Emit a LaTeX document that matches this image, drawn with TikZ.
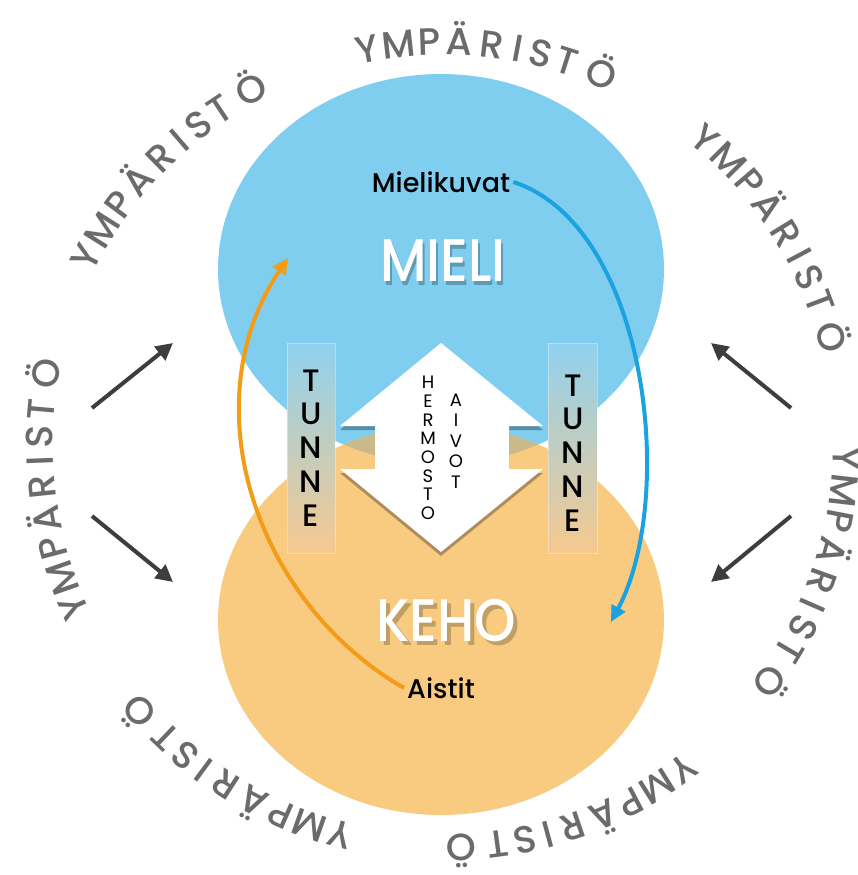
\documentclass[tikz,border=0pt]{standalone}
\usepackage{fontspec}
\setmainfont{Poppins}
\newfontfamily\medfont{Poppins Medium}
\usetikzlibrary{arrows.meta}

\definecolor{mieliblue}{HTML}{7FCEF0}
\definecolor{kehoorange}{HTML}{F8CB80}
\definecolor{overlaptan}{HTML}{C9B98B}
\definecolor{mieliarrow}{HTML}{1AA3E0}
\definecolor{kehoarrow}{HTML}{F39C17}
\definecolor{envgray}{HTML}{6B6B6B}
\definecolor{envdark}{HTML}{3D3D3D}
\definecolor{tunnetop}{HTML}{90D1EE}
\definecolor{tunnebot}{HTML}{F6C98F}

\begin{document}
\begin{tikzpicture}[x=1pt,y=1pt,
  envtext/.style={text=envgray,font=\medfont\fontsize{38}{38}\selectfont,anchor=base,inner sep=0pt},
  envarrow/.style={draw=envdark,line width=4pt,-{Triangle[length=17pt,width=17pt]}},
  loop/.style={line width=4pt,-{Triangle[length=16pt,width=15pt]}},
  bigword/.style={font=\medfont\fontsize{60}{60}\selectfont,inner sep=0pt,xscale=0.88},
  smallword/.style={font=\medfont\fontsize{27}{27}\selectfont,inner sep=3pt},
  column/.style={align=center,inner sep=0pt},
  bar/.style={top color=tunnetop,bottom color=tunnebot,draw=white,draw opacity=0.35,line width=1pt}]
\useasboundingbox (0,0) rectangle (858,-875);

\fill[mieliblue] (441,-269) ellipse [x radius=223,y radius=195];
\fill[kehoorange] (441,-620) ellipse [x radius=223,y radius=195];
\begin{scope}
\clip (441,-269) ellipse [x radius=223,y radius=195];
\fill[overlaptan] (441,-620) ellipse [x radius=223,y radius=195];
\end{scope}

% kaksisuuntainen nuoli keskellä
\fill[black,opacity=0.3,yshift=-4pt] (441,-343) -- (543,-426) -- (509,-426) -- (509,-469) -- (543,-469)
  -- (441,-552) -- (340,-469) -- (375,-469) -- (375,-426) -- (340,-426) -- cycle;
\fill[white] (441,-343) -- (543,-426) -- (509,-426) -- (509,-469) -- (543,-469)
  -- (441,-552) -- (340,-469) -- (375,-469) -- (375,-426) -- (340,-426) -- cycle;

\node[column,font=\fontsize{18}{18.7}\selectfont] (hermosto) at (428,-448) {H\\E\\R\\M\\O\\S\\T\\O};
\node[column,font=\fontsize{18}{20.5}\selectfont] (aivot) at (456,-441) {A\\I\\V\\O\\T};

\fill[bar] (287,-343) rectangle (335,-553);
\fill[bar] (548,-343) rectangle (597,-553);
\node[column,font=\medfont\fontsize{31}{33.8}\selectfont] (tunneL) at (311,-448) {T\\U\\N\\N\\E};
\node[column,font=\medfont\fontsize{31}{33.8}\selectfont] (tunneR) at (573,-453) {T\\U\\N\\N\\E};

\node[bigword,text=black,opacity=0.25] (mieliShadow) at (445,-265) {MIELI};
\node[bigword,text=white] (mieli) at (443,-261) {MIELI};
\node[bigword,text=black,opacity=0.22] (kehoShadow) at (450,-625) {KEHO};
\node[bigword,text=white] (keho) at (446,-621) {KEHO};

\node[smallword] (mielikuvat) at (441,-182) {Mielikuvat};
\node[smallword] (aistit) at (441,-688) {Aistit};

\coordinate (kehoIn) at (611,-622);
\coordinate (mieliIn) at (288,-258);
\draw[loop,mieliarrow] (mielikuvat.east) to[out=-18,in=62,looseness=0.8] (kehoIn);
\draw[loop,kehoarrow] (aistit.west) to[out=150,in=-124] (mieliIn);

\coordinate (envL) at (92,-462);
\coordinate (envR) at (791,-462);
\coordinate (mieliL) at (173,-343);
\coordinate (kehoL) at (173,-582);
\coordinate (mieliR) at (711,-343);
\coordinate (kehoR) at (711,-582);
\draw[envarrow] ([yshift=54pt]envL) -- (mieliL);
\draw[envarrow] ([yshift=-54pt]envL) -- (kehoL);
\draw[envarrow] ([yshift=54pt]envR) -- (mieliR);
\draw[envarrow] ([yshift=-54pt]envR) -- (kehoR);

% ympäristö kehällä
\begin{scope}[shift={(443,-445)}]
\foreach \k in {0,...,6}
  \foreach \l/\s [count=\i] in {Y/0,M/32,P/63,Ä/93,R/126,I/152,S/176,T/203,Ö/240}{
    \pgfmathsetmacro\ang{83.9-51.43*\k-(\s-120)*0.1415}
    \node[envtext,rotate=\ang-90] (env\k-\i) at (\ang:390) {\l};
  }
\end{scope}
\end{tikzpicture}
\end{document}
